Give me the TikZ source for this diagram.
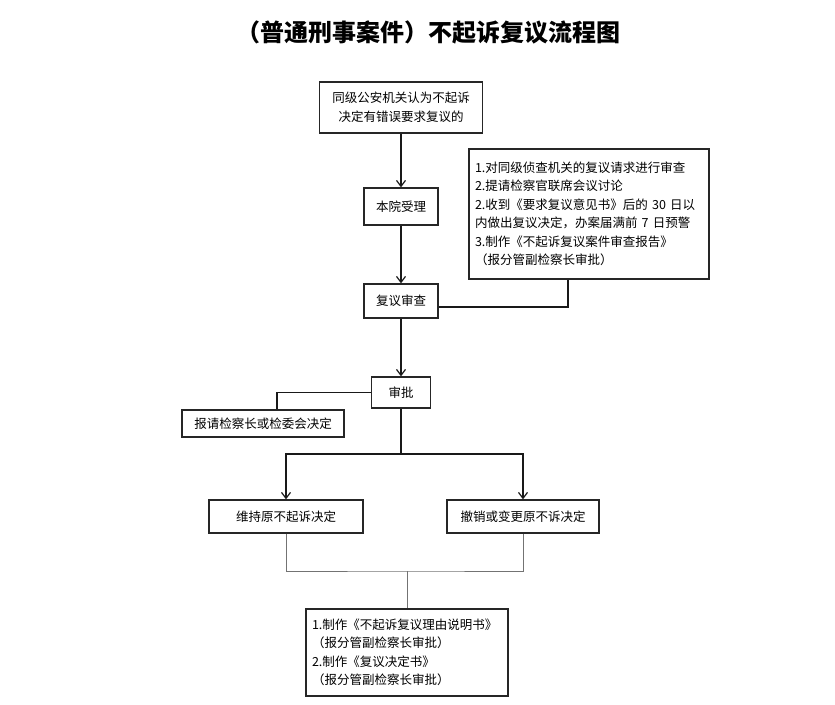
\documentclass[tikz,border=0pt]{standalone}
\usepackage{fontspec}
\newfontfamily\cjk{Noto Sans CJK SC}
\usetikzlibrary{arrows.meta,calc}
\begin{document}
\begin{tikzpicture}[x=1pt,y=-1pt,
  box/.style={draw=black!85,line width=1.2pt,inner sep=0pt,font=\cjk\fontsize{12.5}{18.5}\selectfont},
  conn/.style={draw=black!90,line width=1.2pt},
  arr/.style={conn,-{Straight Barb[length=6pt,width=9pt,line width=1.2pt]}},
  gconn/.style={draw=black!55,line width=1pt}]
\useasboundingbox (0,0) rectangle (835,704);
\node[font=\cjk\bfseries\fontsize{24}{28}\selectfont] (title) at (428,32) {（普通刑事案件）不起诉复议流程图};
\node[box,minimum width=163,minimum height=51,align=center] (b1) at (401,107.5) {同级公安机关认为不起诉\\决定有错误要求复议的};
\node[box,minimum width=74,minimum height=37] (b2) at (401,206.5) {本院受理};
\node[box,minimum width=74,minimum height=34] (b3) at (401,301) {复议审查};
\node[box,minimum width=240,minimum height=130,align=left,text width=228] (note) at (589,214) {1.对同级侦查机关的复议请求进行审查\\2.提请检察官联席会议讨论\\2.收到《要求复议意见书》后的 30 日以\\内做出复议决定，办案届满前 7 日预警\\3.制作《不起诉复议案件审查报告》\\（报分管副检察长审批）};
\node[box,minimum width=59,minimum height=31] (sp) at (401,392.5) {审批};
\node[box,minimum width=162,minimum height=27] (bq) at (263,423.5) {报请检察长或检委会决定};
\node[box,minimum width=154,minimum height=33] (wc) at (286,516.5) {维持原不起诉决定};
\node[box,minimum width=152,minimum height=33] (cx) at (523,516.5) {撤销或变更原不诉决定};
\node[box,minimum width=202,minimum height=87,align=left,text width=190] (fin) at (407,652.5) {1.制作《不起诉复议理由说明书》\\（报分管副检察长审批）\\2.制作《复议决定书》\\（报分管副检察长审批）};
\coordinate (c1) at (568,307);
\coordinate (c2) at (277,391);
\coordinate (c3) at (401,454);
\coordinate (c4) at (407,571);
\draw[arr] (b1.south) -- (b2.north);
\draw[arr] (b2.south) -- (b3.north);
\draw[arr] (b3.south) -- (sp.north);
\draw[conn] (c1 |- note.south) -- (c1) -- (c1 -| b3.east);
\draw[conn] (sp.west) -| (c2 |- bq.north);
\draw[conn] (sp.south) -- (c3);
\draw[arr] (c3) -| (wc.north);
\draw[arr] (c3) -| (cx.north);
\draw[gconn] (wc.south) |- (c4) -| (cx.south);
\draw[gconn] (c4) -- (fin.north);
\end{tikzpicture}
\end{document}
